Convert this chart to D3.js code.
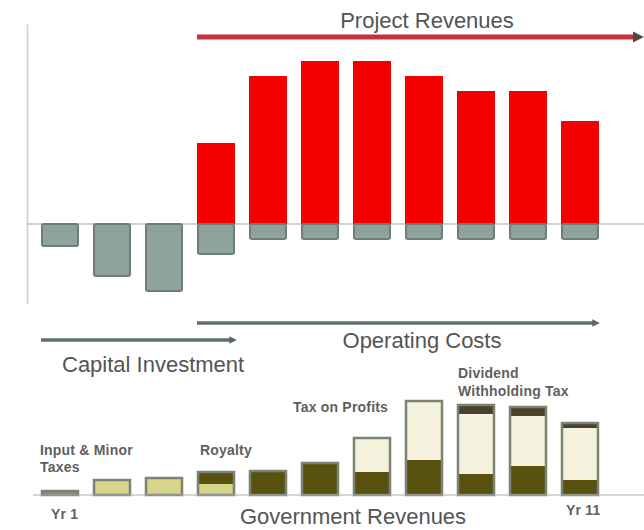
<!DOCTYPE html>
<html>
<head>
<meta charset="utf-8">
<script src="https://cdn.jsdelivr.net/npm/d3@7"></script>
<style>
  body { margin: 0; background: #fff; }
  text { font-family: "Liberation Sans", Arial, sans-serif; fill: #555; }
  .small { font-size: 14px; font-weight: bold; fill: #5f5f5f; letter-spacing: 0.2px; }
  .big { font-size: 22px; fill: #545454; }
</style>
</head>
<body>
<script>
// Data
var years = ["1", "2", "3", "4", "5", "6", "7", "8", "9", "10", "11"];
var revenues = [0, 0, 0, 81, 148, 163, 163, 148, 133, 133, 103];
var costs = [22, 52, 67, 30, 15, 15, 15, 15, 15, 15, 15];

var inputTax = [5, 0, 0, 0, 0, 0, 0, 0, 0, 0, 0];
var minorTax = [0, 16, 18, 11, 0, 0, 0, 0, 0, 0, 0];
var royalty = [0, 0, 0, 13, 25, 33, 23, 35, 21, 29, 15];
var profitTax = [0, 0, 0, 0, 0, 0, 35, 60, 60, 50, 52];
var dividendTax = [0, 0, 0, 0, 0, 0, 0, 0, 10, 10, 6];

var govKeys = ["input", "minor", "royalty", "profit", "dividend"];
var govColors = {input: "#7f8d80", minor: "#d7d58c", royalty: "#595110", profit: "#f4f1dd", dividend: "#48432c"};

var width = 644, height = 530;

var svg = d3.select("body").append("svg")
    .attr("width", width)
    .attr("height", height);

var defs = svg.append("defs");
function marker(id, color) {
  defs.append("marker")
      .attr("id", id)
      .attr("viewBox", "0 0 10 10")
      .attr("refX", 1).attr("refY", 5)
      .attr("markerWidth", 2.2).attr("markerHeight", 2.4)
      .attr("orient", "auto")
    .append("path")
      .attr("d", "M0,0 L10,5 L0,10 Z")
      .attr("fill", color);
}
marker("headRed", "#4f4a4a");
marker("headGray", "#5a6a62");

var x = d3.scaleBand().domain(years).range([34, 606])
    .paddingInner(0.269).paddingOuter(0.1346);

// ---- top: project cash flow
var y = d3.scaleLinear().domain([-80, 200]).range([304, 24]);

svg.append("g")
    .attr("transform", "translate(27,0)")
    .call(d3.axisLeft(y).ticks(0).tickSizeOuter(0))
    .call(g => g.select(".domain").attr("stroke", "#cfcfcf").attr("stroke-width", 1.5));

svg.append("line")
    .attr("x1", 27).attr("x2", width)
    .attr("y1", y(0)).attr("y2", y(0))
    .attr("stroke", "#9aa7a1").attr("stroke-width", 1.2);

svg.append("g").selectAll("rect")
    .data(years.filter((d, i) => revenues[i] > 0))
    .join("rect")
    .attr("x", d => x(d))
    .attr("y", d => y(revenues[years.indexOf(d)]))
    .attr("width", x.bandwidth())
    .attr("height", d => y(0) - y(revenues[years.indexOf(d)]))
    .attr("fill", "#f50000");

svg.append("g").selectAll("rect")
    .data(years)
    .join("rect")
    .attr("x", d => x(d) + 1)
    .attr("y", y(0))
    .attr("width", x.bandwidth() - 2)
    .attr("height", (d, i) => y(-costs[i]) - y(0))
    .attr("rx", 2)
    .attr("fill", "#8ea399")
    .attr("stroke", "#6e7d75")
    .attr("stroke-width", 2);

// arrows
svg.append("line")
    .attr("x1", x("4")).attr("x2", 634)
    .attr("y1", 37).attr("y2", 37)
    .attr("stroke", "#c7303a").attr("stroke-width", 5)
    .attr("marker-end", "url(#headRed)");
svg.append("text").attr("class", "big")
    .attr("x", 427).attr("y", 28).attr("text-anchor", "middle")
    .text("Project Revenues");

svg.append("line")
    .attr("x1", x("4")).attr("x2", 593)
    .attr("y1", 323).attr("y2", 323)
    .attr("stroke", "#5f7068").attr("stroke-width", 3.5)
    .attr("marker-end", "url(#headGray)");
svg.append("text").attr("class", "big")
    .attr("x", 422).attr("y", 348).attr("text-anchor", "middle")
    .text("Operating Costs");

svg.append("line")
    .attr("x1", x("1")).attr("x2", 230)
    .attr("y1", 340).attr("y2", 340)
    .attr("stroke", "#5f7068").attr("stroke-width", 3.5)
    .attr("marker-end", "url(#headGray)");
svg.append("text").attr("class", "big")
    .attr("x", 62).attr("y", 372)
    .text("Capital Investment");

// ---- bottom: government revenues
var gy = d3.scaleLinear().domain([0, 100]).range([495, 395]);

var rows = years.map((d, i) => ({
  year: d, input: inputTax[i], minor: minorTax[i], royalty: royalty[i],
  profit: profitTax[i], dividend: dividendTax[i]
}));
var stack = d3.stack().keys(govKeys)(rows);

svg.append("g").selectAll("g")
    .data(stack)
    .join("g")
    .attr("fill", s => govColors[s.key])
    .selectAll("rect")
    .data(s => s)
    .join("rect")
    .attr("x", d => x(d.data.year))
    .attr("y", d => gy(d[1]))
    .attr("width", x.bandwidth())
    .attr("height", d => gy(d[0]) - gy(d[1]));

svg.append("g").selectAll("rect")
    .data(rows)
    .join("rect")
    .attr("x", d => x(d.year) + 1)
    .attr("y", d => gy(d3.sum(govKeys, k => d[k])) + 1)
    .attr("width", x.bandwidth() - 2)
    .attr("height", d => gy(0) - gy(d3.sum(govKeys, k => d[k])) - 1)
    .attr("fill", "none")
    .attr("stroke", "#7c8373")
    .attr("stroke-width", 2.5);

svg.append("line")
    .attr("x1", 33).attr("x2", width)
    .attr("y1", gy(0)).attr("y2", gy(0))
    .attr("stroke", "#a7aea7").attr("stroke-width", 1.2);

var labels = [
  {t: "Input & Minor", x: 40, y: 455},
  {t: "Taxes", x: 40, y: 472},
  {t: "Royalty", x: 200, y: 455},
  {t: "Tax on Profits", x: 293, y: 412},
  {t: "Dividend", x: 458, y: 378},
  {t: "Withholding Tax", x: 458, y: 396},
  {t: "Yr 1", x: 51, y: 519},
  {t: "Yr 11", x: 566, y: 515}
];
svg.append("g").selectAll("text")
    .data(labels)
    .join("text")
    .attr("class", "small")
    .attr("x", d => d.x).attr("y", d => d.y)
    .text(d => d.t);

svg.append("text").attr("class", "big")
    .attr("x", 353).attr("y", 524).attr("text-anchor", "middle")
    .text("Government Revenues");
</script>
</body>
</html>
